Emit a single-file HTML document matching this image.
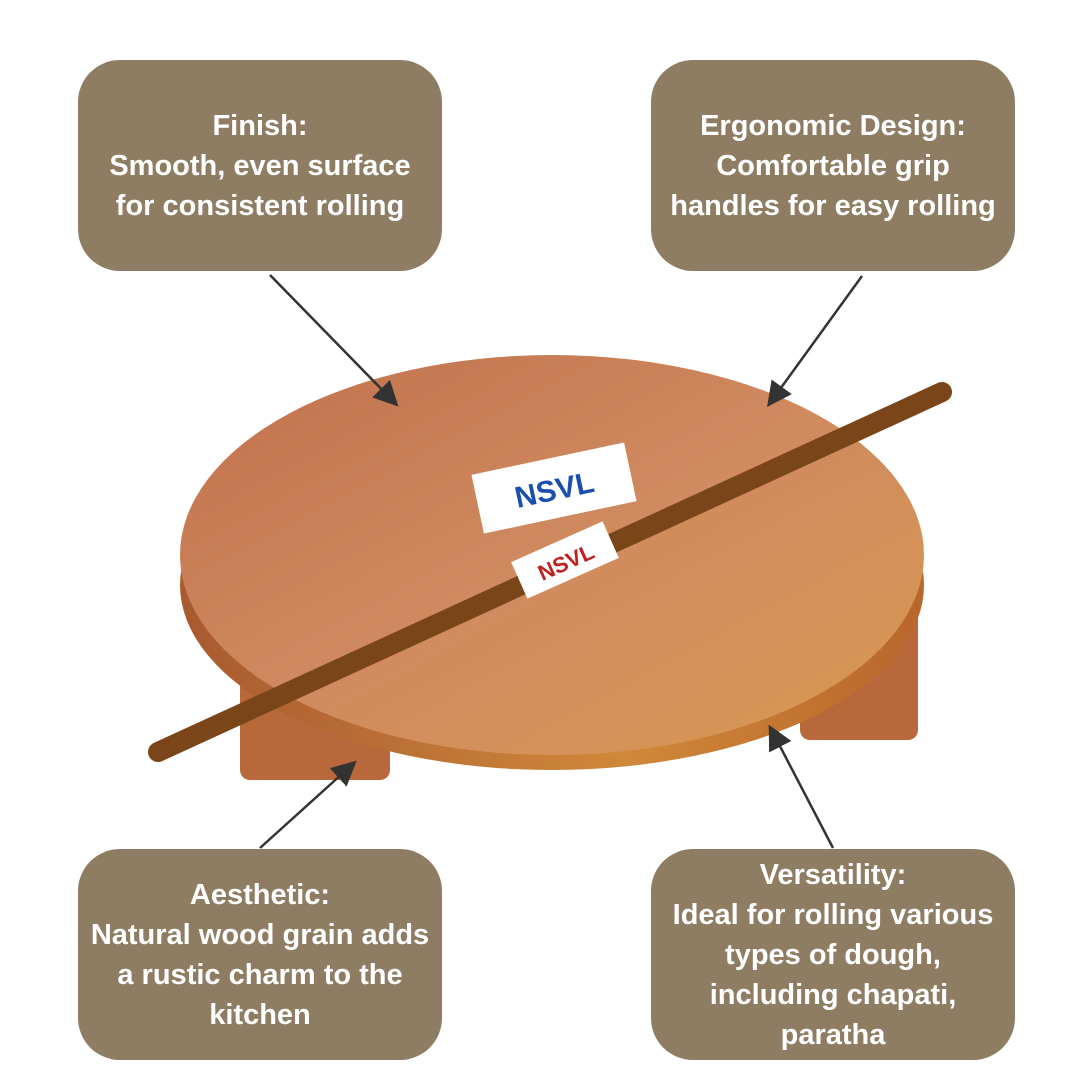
<!DOCTYPE html>
<html><head><meta charset="utf-8"><style>
body{margin:0;width:1080px;height:1080px;background:#fff;overflow:hidden;position:relative;font-family:"Liberation Sans",sans-serif}
.b{position:absolute;width:364px;height:211px;background:#8f7d63;border-radius:42px;color:#fff;font-weight:bold;font-size:29px;line-height:40px;display:flex;align-items:center;justify-content:center;text-align:center}
svg{position:absolute;left:0;top:0}
</style></head><body>
<svg width="1080" height="1080" viewBox="0 0 1080 1080">
<defs>
<linearGradient id="w" x1="0" y1="0" x2="1" y2="1">
<stop offset="0" stop-color="#c0704a"/><stop offset="0.5" stop-color="#d08a60"/><stop offset="1" stop-color="#d89a50"/></linearGradient>
<linearGradient id="s" x1="0" y1="0" x2="1" y2="0">
<stop offset="0" stop-color="#a85a30"/><stop offset="0.6" stop-color="#d0883a"/><stop offset="1" stop-color="#b8662c"/></linearGradient>
<marker id="a" markerWidth="10" markerHeight="10" refX="8" refY="5" orient="auto"><path d="M0,0 L10,5 L0,10 z" fill="#333"/></marker>
</defs>
<rect x="240" y="640" width="150" height="140" rx="10" fill="#b8683a"/>
<rect x="800" y="600" width="118" height="140" rx="10" fill="#b8683a"/>
<ellipse cx="552" cy="585" rx="372" ry="185" fill="url(#s)"/>
<ellipse cx="552" cy="555" rx="372" ry="200" fill="url(#w)"/>
<rect x="476" y="458" width="156" height="60" fill="#fff" transform="rotate(-12 554 488)"/>
<text x="554" y="500" font-size="30" font-weight="bold" fill="#1a4fb0" text-anchor="middle" transform="rotate(-12 554 488)">NSVL</text>
<line x1="158" y1="752" x2="942" y2="392" stroke="#7a4519" stroke-width="20" stroke-linecap="round"/>
<rect x="515" y="540" width="100" height="40" fill="#fff" transform="rotate(-24 565 560)"/>
<text x="565" y="570" font-size="22" font-weight="bold" fill="#c02020" text-anchor="middle" transform="rotate(-24 565 560)">NSVL</text>
<g stroke="#333" stroke-width="2.5" marker-end="url(#a)">
<line x1="270" y1="275" x2="395" y2="403"/>
<line x1="862" y1="276" x2="770" y2="403"/>
<line x1="260" y1="848" x2="353" y2="764"/>
<line x1="833" y1="848" x2="771" y2="729"/>
</g>
</svg>
<div class="b" style="left:78px;top:60px">Finish:<br>Smooth, even surface<br>for consistent rolling</div>
<div class="b" style="left:651px;top:60px">Ergonomic Design:<br>Comfortable grip<br>handles for easy rolling</div>
<div class="b" style="left:78px;top:849px">Aesthetic:<br>Natural wood grain adds<br>a rustic charm to the<br>kitchen</div>
<div class="b" style="left:651px;top:849px">Versatility:<br>Ideal for rolling various<br>types of dough,<br>including chapati,<br>paratha</div>
</body></html>
